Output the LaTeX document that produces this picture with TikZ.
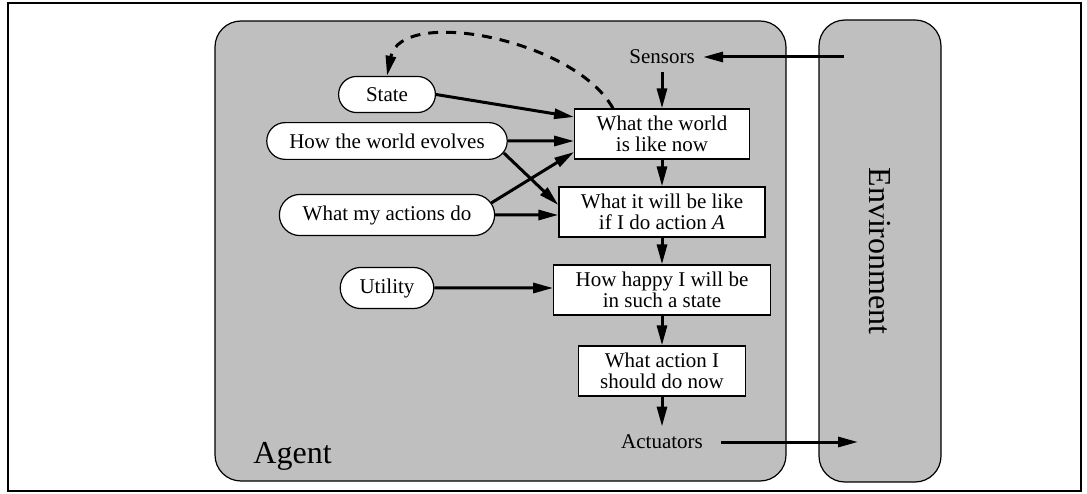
\documentclass[tikz,border=0pt]{standalone}
\usepackage{fontspec}
\setmainfont{Liberation Serif}
\usetikzlibrary{arrows.meta,shapes.misc,positioning}

\begin{document}
\begin{tikzpicture}[
    x = 0.5pt, y = 0.5pt,
    on grid,
    node distance = 39pt,
    font = \fontsize{10.5}{10.5}\selectfont
  ]
  \tikzstyle{region} = [
    draw, fill = black!25, rectangle,
    rounded corners = 13pt,
    inner sep      = 0pt,
    line width     = 0.6pt
  ]
  \tikzstyle{block} = [
    draw, fill = white, rectangle,
    align          = center,
    inner xsep     = 11pt,
    inner ysep     = 2pt,
    minimum height = 25pt,
    line width     = 0.6pt
  ]
  \tikzstyle{pill}  = [
    draw, fill = white, rounded rectangle,
    inner xsep     = 10.5pt,
    inner ysep     = 5.5pt,
    line width     = 0.6pt
  ]
  \tikzstyle{port}     = [inner sep = 4pt]
  \tikzstyle{biglabel} = [font = \fontsize{16}{16}\selectfont]
  \tikzstyle{arrow}    = [draw, line width = 1.5pt, -{Triangle[length=10pt, width=5pt]}]
  \tikzstyle{feedback} = [arrow, dash pattern = on 5pt off 4pt]

  \useasboundingbox (0,0) rectangle (1087,493);
  \draw [line width = 1.2pt] (8,2) rectangle (1081,490);

  \node [region, minimum width = 285.5pt, minimum height = 230pt] (agent) at (500.5,242) {};
  \node [region, minimum width = 61pt,    minimum height = 231pt] (env)   at (880,242)   {};
  \node [biglabel, rotate = -90]                             (envlbl)   at (env) {Environment};
  \node [biglabel, anchor = base west] (agentlbl) at ([shift={(32,18)}]agent.south west) {Agent};

  \node [block] at (662,359)             (world)   {What the world \\ is like now};
  \node [block, below = of world]        (predict) {What it will be like \\ if I do action \textit{A}};
  \node [block, below = of predict]      (happy)   {How happy I will be \\ in such a state};
  \node [block, below = 40.5pt of happy] (decide)  {What action I \\ should do now};
  \node [port, above = 38.5pt of world]    (sensors)   {Sensors};
  \node [port, below = 35.5pt of decide]   (actuators) {Actuators};

  \node [pill, left = 137.5pt of world, yshift = -3.5pt]  (evolves) {How the world evolves};
  \node [pill, above = 23.25pt of evolves, inner xsep = 13pt] (state) {State};
  \node [pill, left = 137.5pt of predict, yshift = -1.5pt] (actions) {What my actions do};
  \node [pill, left = 137.5pt of happy, yshift = 1pt, inner xsep = 8.5pt] (utility) {Utility};

  \coordinate [xshift = -18pt] (senv) at (sensors -| env);
  \coordinate [xshift = -11pt] (aenv) at (actuators -| env);

  \path [arrow] (senv)      -- (sensors);
  \path [arrow] (sensors)   -- (world);
  \path [arrow] (world)     -- (predict);
  \path [arrow] (predict)   -- (happy);
  \path [arrow] (happy)     -- (decide);
  \path [arrow] (decide)    -- (actuators);
  \path [arrow] ([xshift = 5pt]actuators.east) -- (aenv);

  \path [arrow] (state.east) -- ([yshift = 8.5pt]world.west);
  \path [arrow] (evolves)    -- (evolves -| world.west);
  \path [arrow] ([shift={(-2pt,-6pt)}]evolves.east) -- ([yshift = 3.5pt]predict.west);
  \path [arrow] ([shift={(-2pt,6pt)}]actions.east)  -- ([yshift = -9pt]world.west);
  \path [arrow] (actions)    -- (actions -| predict.west);
  \path [arrow] (utility)    -- (utility -| happy.west);
  \path [feedback] ([xshift = -24.5pt]world.north) .. controls +(-38,69) and +(14,70) .. (state.north);
\end{tikzpicture}
\end{document}
